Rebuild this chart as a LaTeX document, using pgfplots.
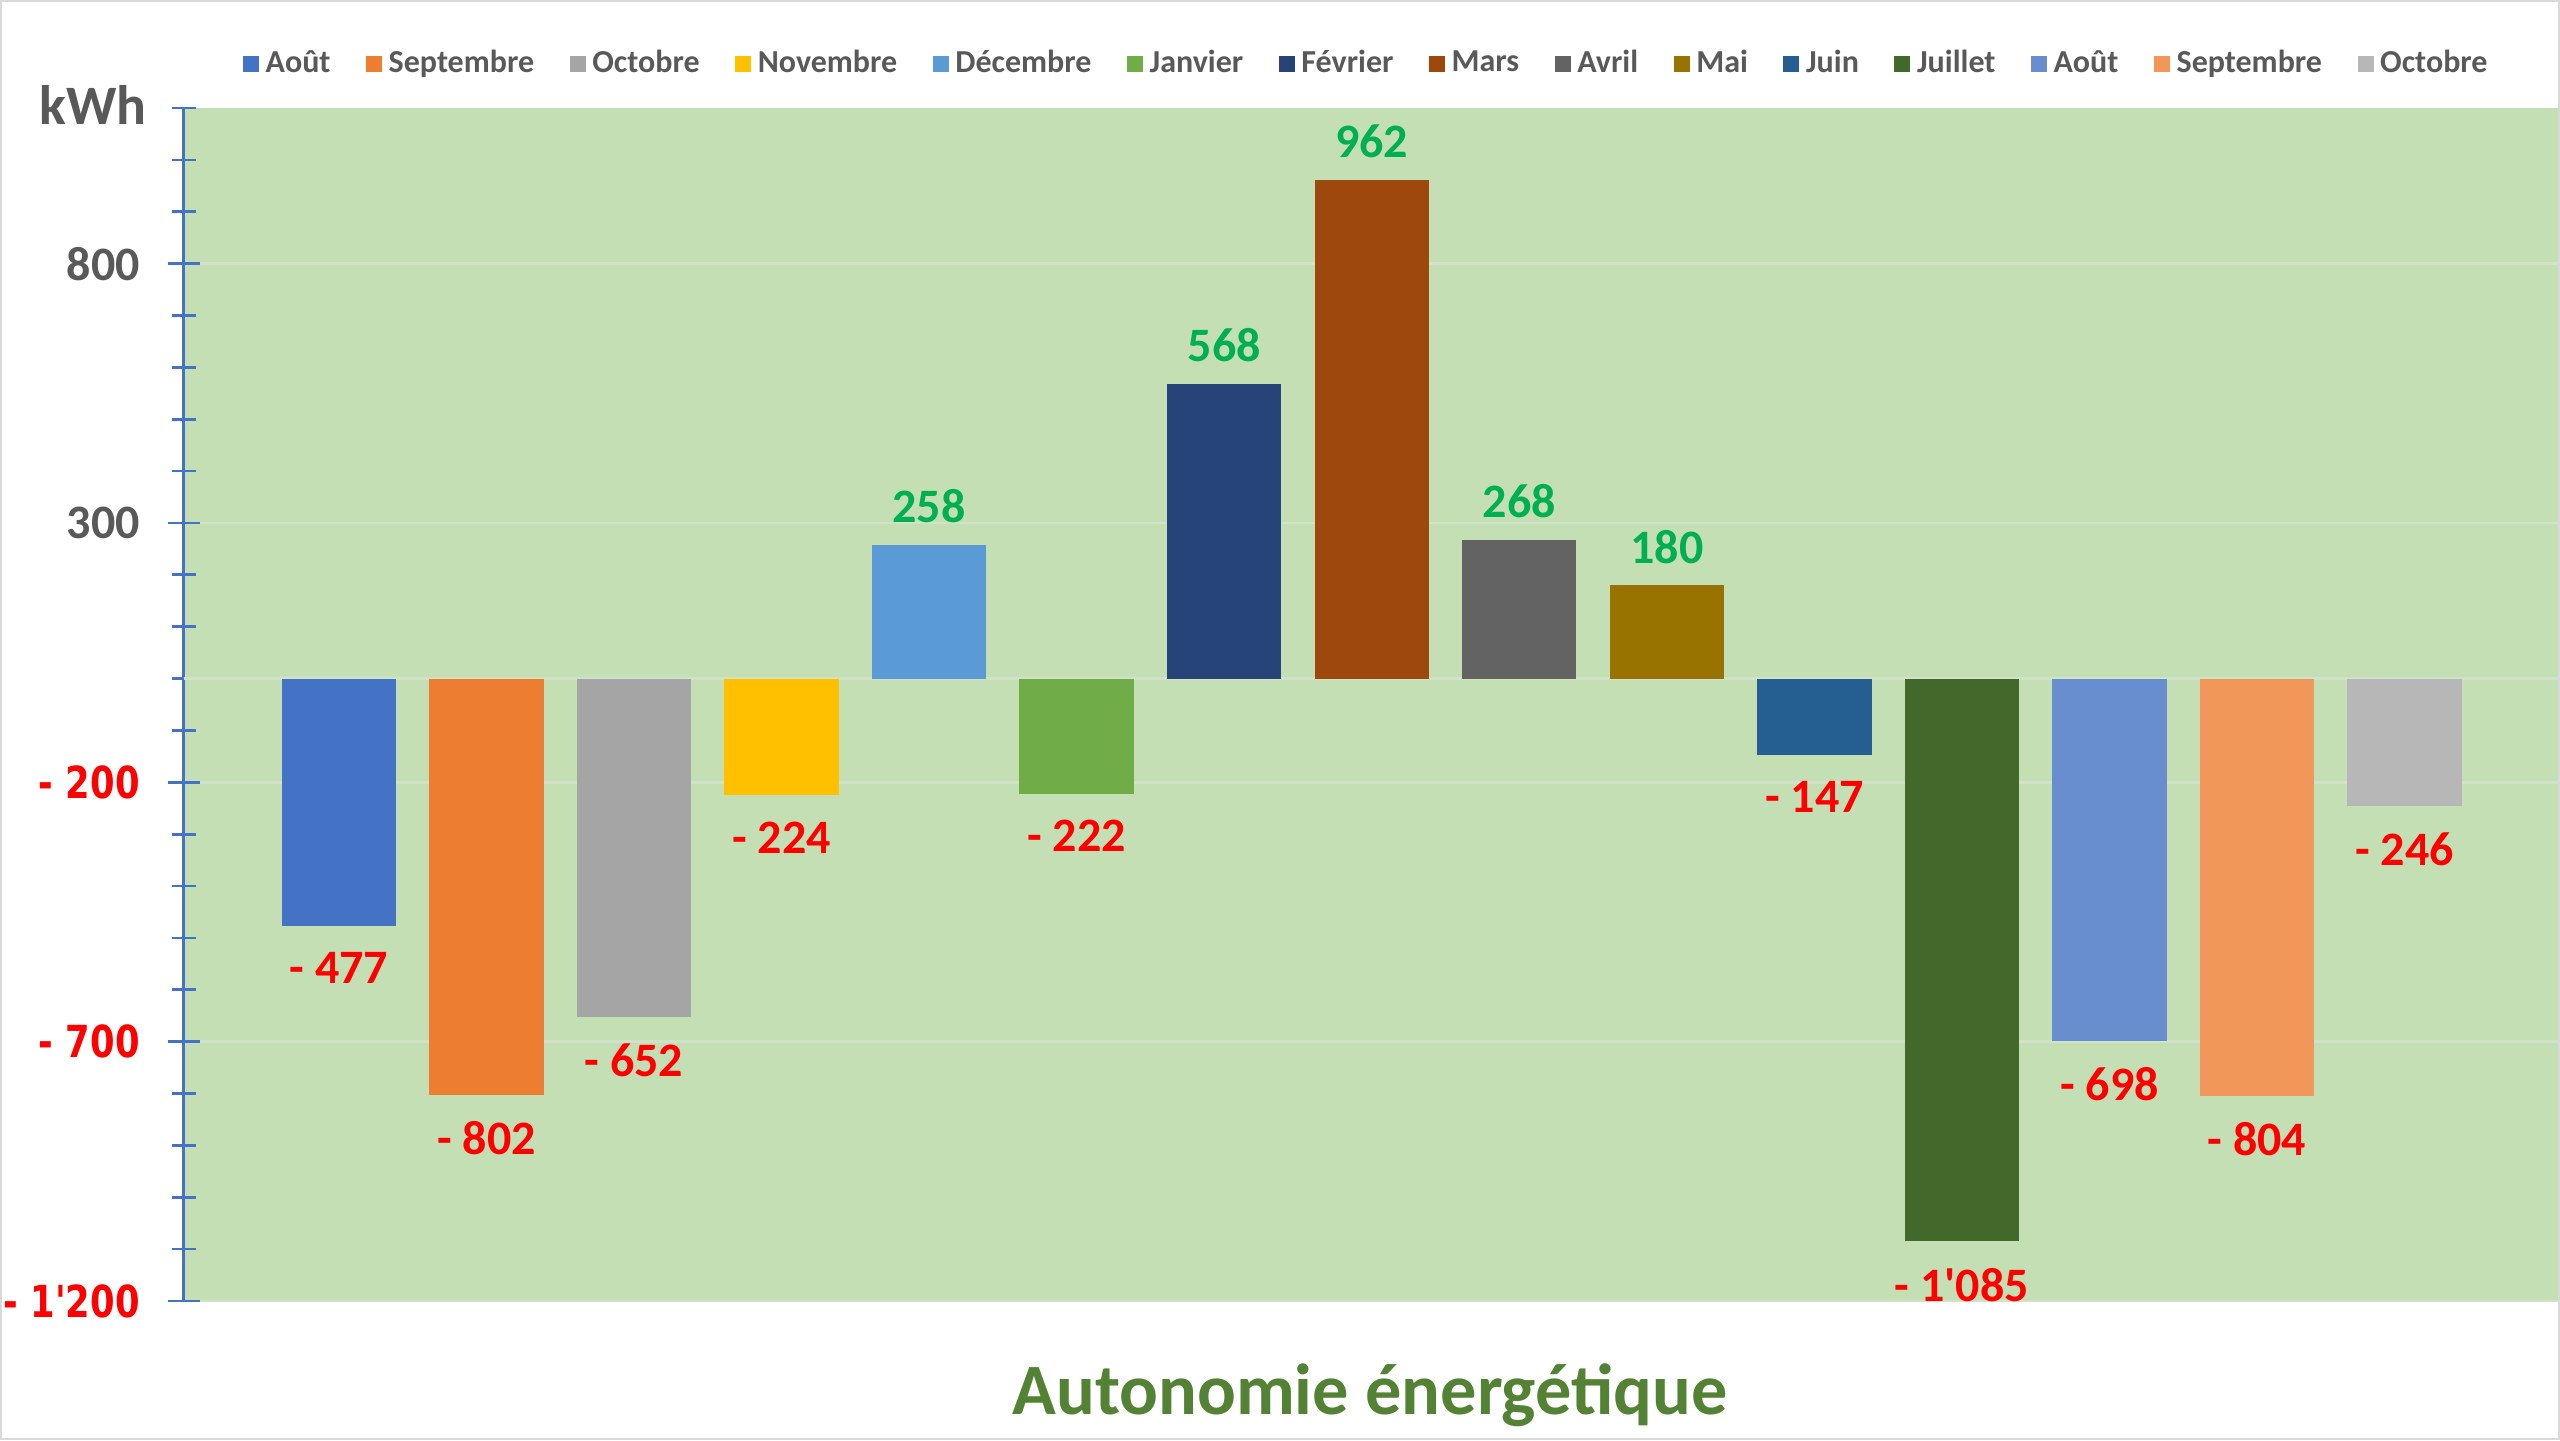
\documentclass[border=0pt]{standalone}
\usepackage{pgfplots}
\pgfplotsset{compat=1.18}
\usepackage{fontspec}
\setmainfont{Carlito}
\newfontfamily\verd{DejaVu Sans}
\definecolor{c1}{HTML}{4472C4}
\definecolor{c2}{HTML}{ED7D31}
\definecolor{c3}{HTML}{A5A5A5}
\definecolor{c4}{HTML}{FFC000}
\definecolor{c5}{HTML}{5B9BD5}
\definecolor{c6}{HTML}{70AD47}
\definecolor{c7}{HTML}{264478}
\definecolor{c8}{HTML}{9E480E}
\definecolor{c9}{HTML}{636363}
\definecolor{c10}{HTML}{997300}
\definecolor{c11}{HTML}{255E91}
\definecolor{c12}{HTML}{43682B}
\definecolor{c13}{HTML}{698ED0}
\definecolor{c14}{HTML}{F1975A}
\definecolor{c15}{HTML}{B7B7B7}
\definecolor{bggreen}{HTML}{C5DFB4}
\definecolor{posg}{HTML}{00B050}
\definecolor{negr}{HTML}{FF0000}
\definecolor{txtgray}{HTML}{595959}
\definecolor{titleg}{HTML}{548235}
\definecolor{axblue}{HTML}{4472C4}
\definecolor{gridc}{HTML}{D0E2C8}
\definecolor{framec}{HTML}{D9D9D9}
\newcommand{\nl}[1]{\textcolor{negr}{\scalebox{1}[1.25]{\fontsize{10.6}{12}\verd\bfseries #1}}}
\newcommand{\pl}[1]{\textcolor{txtgray}{\fontsize{14.4}{16}\selectfont\bfseries #1}}
\pgfplotsset{
  pos/.style={nodes near coords style={anchor=south, text=posg, yshift=3.0pt}},
  neg/.style={nodes near coords style={anchor=north, text=negr, yshift=-4.5pt}},
}
\begin{document}
\begin{tikzpicture}
\useasboundingbox (0,0) rectangle (768pt,432pt);
\draw[framec, line width=0.6pt] (0.3pt,0.3pt) rectangle (767.7pt,431.7pt);
\begin{axis}[
  at={(55.2pt,41.7pt)}, anchor=south west,
  scale only axis, width=712.2pt, height=357.9pt,
  xmin=-0.05, xmax=16.04, ymin=-1200, ymax=1100,
  ybar, bar width=0.775, bar shift=0pt,
  axis x line=none, axis y line*=left,
  axis background/.style={fill=bggreen},
  y axis line style={draw=axblue, line width=0.9pt, -},
  ytick={-1200,-700,-200,300,800},
  yticklabels={\nl{- 1\textquotesingle 200},\nl{- 700},\nl{- 200},\pl{300},\pl{800}},
  minor ytick={-1100,-1000,-900,-800,-600,-500,-400,-300,-100,0,100,200,400,500,600,700,900,1000,1100},
  tick align=center,
  major tick length=9.6pt, minor tick length=7pt,
  every tick/.style={draw=axblue, line width=0.8pt},
  ymajorgrids, major grid style={draw=gridc, line width=0.8pt},
  extra y ticks={0}, extra y tick labels={},
  extra y tick style={major tick length=0pt, grid=major},
  yticklabel style={font=\fontsize{14.4}{16}\selectfont, inner sep=0pt, anchor=east, xshift=-8.3pt},
  xtick=\empty,
  clip=false,
  nodes near coords, point meta=explicit symbolic,
  every node near coord/.append style={font=\fontsize{14.4}{16}\selectfont\bfseries},
  legend columns=15,
  legend style={at={(axis description cs:0.499,1.037)}, anchor=center, draw=none, fill=none,
    font=\fontsize{9.6}{11}\selectfont\bfseries, text=txtgray,
    /tikz/every even column/.append style={column sep=8.65pt},
    /tikz/every odd column/.append style={column sep=0pt},
    inner sep=0pt},
  legend image code/.code={\fill[#1] (0pt,-2.4pt) rectangle (4.8pt,2.4pt);},
]
\addplot[fill=c1, draw=none, neg] coordinates {(1,-477) [{- 477}]};
\addlegendentry{Août}
\addplot[fill=c2, draw=none, neg] coordinates {(2,-802) [{- 802}]};
\addlegendentry{Septembre}
\addplot[fill=c3, draw=none, neg] coordinates {(3,-652) [{- 652}]};
\addlegendentry{Octobre}
\addplot[fill=c4, draw=none, neg] coordinates {(4,-224) [{- 224}]};
\addlegendentry{Novembre}
\addplot[fill=c5, draw=none, pos] coordinates {(5,258) [{258}]};
\addlegendentry{Décembre}
\addplot[fill=c6, draw=none, neg] coordinates {(6,-222) [{- 222}]};
\addlegendentry{Janvier}
\addplot[fill=c7, draw=none, pos] coordinates {(7,568) [{568}]};
\addlegendentry{Février}
\addplot[fill=c8, draw=none, pos] coordinates {(8,962) [{962}]};
\addlegendentry{Mars}
\addplot[fill=c9, draw=none, pos] coordinates {(9,268) [{268}]};
\addlegendentry{Avril}
\addplot[fill=c10, draw=none, pos] coordinates {(10,180) [{180}]};
\addlegendentry{Mai}
\addplot[fill=c11, draw=none, neg] coordinates {(11,-147) [{- 147}]};
\addlegendentry{Juin}
\addplot[fill=c12, draw=none, neg] coordinates {(12,-1085) [{- 1\textquotesingle 085}]};
\addlegendentry{Juillet}
\addplot[fill=c13, draw=none, neg] coordinates {(13,-698) [{- 698}]};
\addlegendentry{Août}
\addplot[fill=c14, draw=none, neg] coordinates {(14,-804) [{- 804}]};
\addlegendentry{Septembre}
\addplot[fill=c15, draw=none, neg] coordinates {(15,-246) [{- 246}]};
\addlegendentry{Octobre}
\end{axis}
\node[text=txtgray, font=\fontsize{16.7}{18}\selectfont\bfseries, anchor=center] at (27.9pt,400.6pt) {kWh};
\node[text=titleg, font=\fontsize{21.7}{25}\selectfont\bfseries, anchor=base] at (411pt,7.8pt) {Autonomie énergétique};
\end{tikzpicture}
\end{document}
